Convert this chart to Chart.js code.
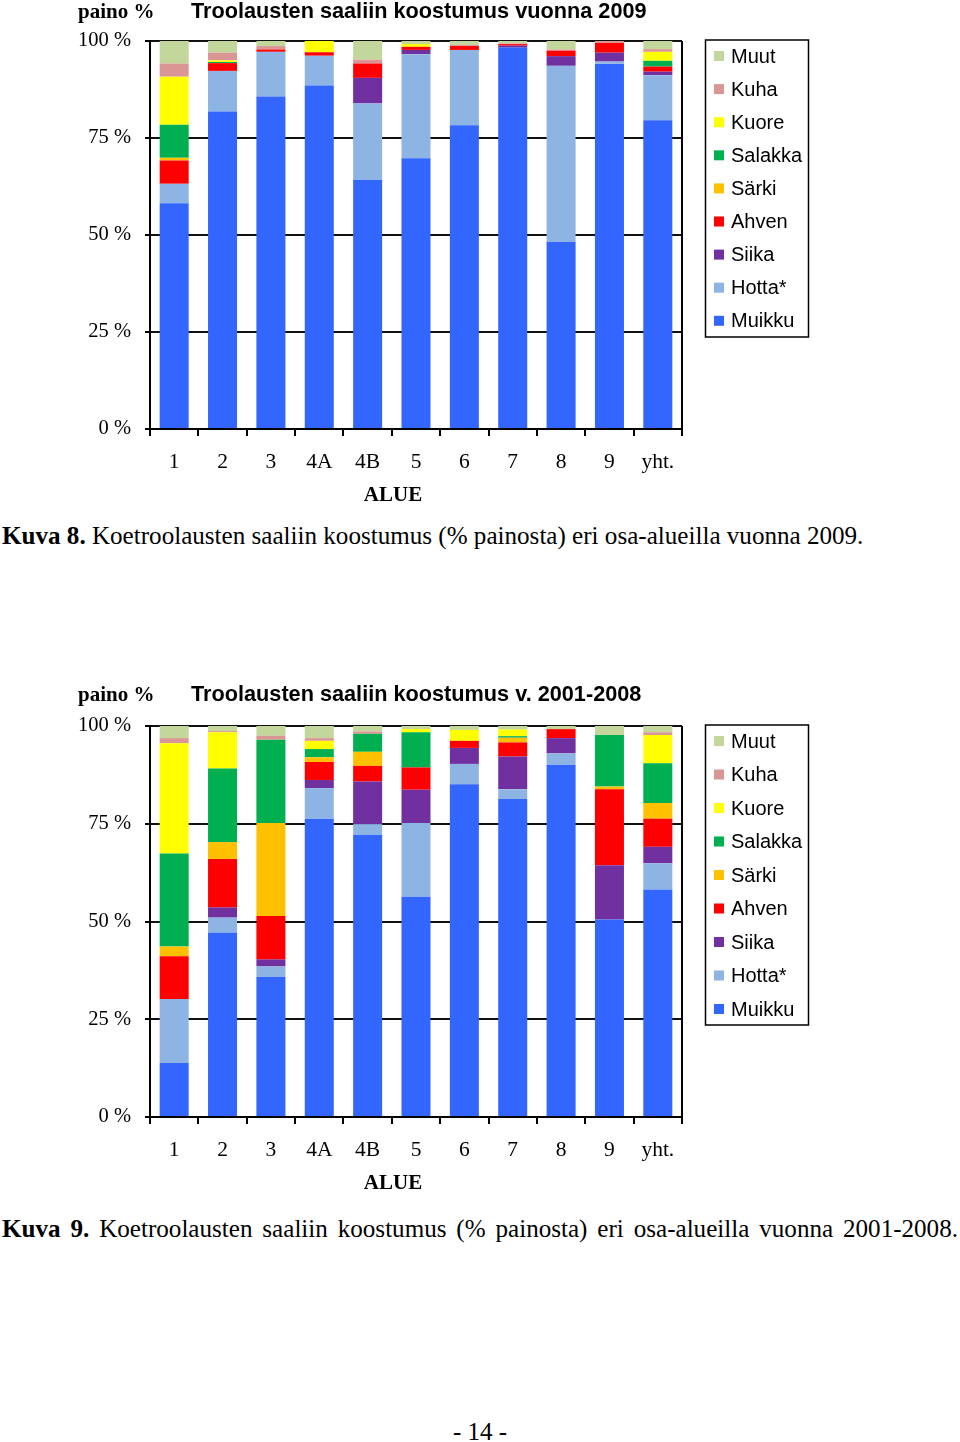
<!DOCTYPE html>
<html>
<head>
<meta charset="utf-8">
<script src="https://cdn.jsdelivr.net/npm/chart.js@4.4.1/dist/chart.umd.min.js"></script>
<style>
  html, body { margin: 0; padding: 0; background: #fff; }
  body { width: 960px; height: 1442px; position: relative; overflow: hidden; font-family: "Liberation Serif", serif; color: #000; }
  .wrap { position: absolute; left: 0; width: 960px; }
  .caption { position: absolute; left: 2px; font-size: 25.1px; white-space: nowrap; line-height: 28px; }
  .caption.just { width: 956px; text-align: justify; text-align-last: justify; white-space: normal; }
  .page { position: absolute; left: 0; width: 960px; text-align: center; top: 1418px; font-size: 25px; line-height: 28px; }
</style>
</head>
<body>
<div class="wrap" style="top:0;height:520px"><canvas id="chart2009"></canvas></div>
<div class="caption" style="top:522px"><b>Kuva 8.</b> Koetroolausten saaliin koostumus (% painosta) eri osa-alueilla vuonna 2009.</div>
<div class="wrap" style="top:685px;height:523px"><canvas id="chart0108"></canvas></div>
<div class="caption just" style="top:1215px"><b>Kuva 9.</b> Koetroolausten saaliin koostumus (% painosta) eri osa-alueilla vuonna 2001-2008.</div>
<div class="page">- 14 -</div>

<script>
const areas = ['1','2','3','4A','4B','5','6','7','8','9','yht.'];
const species = ['Muikku','Hotta*','Siika','Ahven','Särki','Salakka','Kuore','Kuha','Muut'];
const colors = ['#3366ff','#8eb4e3','#7030a0','#ff0000','#ffc000','#00b050','#ffff00','#d99694','#c3d69b'];
const yTicks = [0, 25, 50, 75, 100];

// vuonna 2009, % painosta
const muikku09  = [58.2, 81.8, 85.7, 88.5, 64.2, 69.8, 78.3, 98.3, 48.2, 94.1, 79.6];
const hotta09   = [5.0, 10.5, 11.5, 7.7, 19.7, 26.8, 19.4, 0, 45.4, 0.6, 11.6];
const siika09   = [0, 0, 0, 0, 6.6, 1.1, 0, 0.5, 2.5, 2.3, 0.9];
const ahven09   = [6.0, 2.0, 0.6, 0.9, 3.7, 0.8, 1.0, 0.4, 1.4, 2.5, 1.3];
const sarki09   = [0.7, 0, 0, 0, 0, 0, 0, 0, 0, 0, 0];
const salakka09 = [8.5, 0.3, 0, 0, 0, 0, 0, 0, 0, 0, 1.5];
const kuore09   = [12.4, 0.4, 0, 2.9, 0, 0.7, 0, 0, 0, 0, 2.3];
const kuha09    = [3.4, 2.0, 0.9, 0, 1.0, 0, 0.3, 0.2, 0.3, 0.5, 0.7];
const muut09    = [5.8, 3.0, 1.3, 0, 4.8, 0.8, 1.0, 0.6, 2.2, 0, 2.1];

// v. 2001-2008
const muikku0108  = [13.8, 47.1, 35.8, 76.3, 72.1, 56.3, 85.1, 81.3, 90.1, 50.5, 58.2];
const hotta0108   = [16.4, 3.9, 2.7, 7.8, 2.8, 18.9, 5.2, 2.5, 2.9, 0, 6.7];
const siika0108   = [0, 2.6, 1.8, 2.1, 10.9, 8.5, 4.1, 8.4, 3.9, 13.9, 4.2];
const ahven0108   = [10.9, 12.4, 11.1, 4.6, 4.0, 5.7, 1.8, 3.6, 2.3, 19.4, 7.2];
const sarki0108   = [2.5, 4.3, 23.8, 1.2, 3.6, 0, 0, 1.2, 0, 0.7, 4.0];
const salakka0108 = [23.8, 18.8, 21.3, 2.1, 4.6, 9.0, 0, 0.4, 0, 13.2, 10.2];
const kuore0108   = [28.2, 9.3, 0, 2.1, 0, 0.8, 2.8, 1.7, 0, 0, 7.2];
const kuha0108    = [1.3, 0.3, 1.0, 0.7, 0.6, 0, 0, 0, 0, 0, 0.7];
const muut0108    = [3.1, 1.3, 2.5, 3.1, 1.4, 0.8, 1.0, 0.9, 0.8, 2.3, 1.6];

const SERIF = '"Liberation Serif", "Times New Roman", serif';
const SANS = '"Liberation Sans", Arial, sans-serif';

// titles, axis name and boxed legend
const decor = {
  id: 'decor',
  afterDraw(chart, args, o){
    const c = chart.ctx;
    c.save();
    c.fillStyle = '#000';
    c.textBaseline = 'middle';
    c.textAlign = 'left';
    c.font = 'bold 21px ' + SERIF;
    c.fillText('paino %', 78, o.titleY + 1);
    c.font = 'bold 21.7px ' + SANS;
    c.fillText(o.title, 191, o.titleY);
    c.textAlign = 'center';
    c.font = 'bold 21px ' + SERIF;
    c.fillText('ALUE', 393, chart.chartArea.bottom + 67);

    // legend, Muut on top
    c.strokeStyle = '#000';
    c.lineWidth = 1.5;
    c.strokeRect(705.5, o.legTop, 103, o.legH);
    c.textAlign = 'left';
    c.font = '20px ' + SANS;
    const sets = chart.data.datasets.slice().reverse();
    sets.forEach((ds, i) => {
      const y = o.legTop + 16 + i * o.legStep;
      c.fillStyle = ds.backgroundColor;
      c.fillRect(714, y - 5, 10, 10);
      c.fillStyle = '#000';
      c.fillText(ds.label, 731, y + 1);
    });
    c.restore();
  }
};

function drawChart(id, series, title, legH, legStep, titleY){
  const ctx = document.getElementById(id);
  new Chart(ctx, {
    type: 'bar',
    data: {
      labels: areas,
      datasets: species.map((name, i) => ({
        label: name,
        data: series[i],
        backgroundColor: colors[i],
        borderWidth: 0,
        barPercentage: 0.6,
        categoryPercentage: 1
      }))
    },
    options: {
      responsive: true,
      maintainAspectRatio: false,
      animation: false,
      devicePixelRatio: 1,
      layout: { padding: { top: 41, right: 278, left: 0, bottom: 0 } },
      plugins: {
        legend: { display: false },
        tooltip: { enabled: false },
        decor: { title, legTop: 40, legH, legStep, titleY }
      },
      scales: {
        x: {
          stacked: true,
          offset: true,
          afterFit(s){ s.height = 91; },
          grid: {
            offset: true,
            drawOnChartArea: true,
            color: c => c.type === 'tick' ? 'rgba(0,0,0,0)' : '#000',
            tickColor: '#000',
            lineWidth: 2,
            tickLength: 7
          },
          border: { display: true, color: '#000', width: 2 },
          ticks: {
            color: '#000',
            font: { family: SERIF, size: 21.5 },
            padding: 13,
            maxRotation: 0,
            autoSkip: false
          }
        },
        y: {
          stacked: true,
          min: 0,
          max: 100,
          afterFit(s){ s.width = 150; },
          afterBuildTicks(s){ s.ticks = yTicks.map(v => ({ value: v })); },
          grid: { color: '#111', lineWidth: 2, tickLength: 5, tickColor: '#000' },
          border: { display: true, color: '#000', width: 2 },
          ticks: {
            color: '#000',
            font: { family: SERIF, size: 20.5, lineHeight: 1.4 },
            padding: 14,
            callback: v => v + ' %'
          }
        }
      }
    },
    plugins: [decor]
  });
}

drawChart('chart2009',
  [muikku09, hotta09, siika09, ahven09, sarki09, salakka09, kuore09, kuha09, muut09],
  'Troolausten saaliin koostumus vuonna 2009', 297, 33.1, 12);

drawChart('chart0108',
  [muikku0108, hotta0108, siika0108, ahven0108, sarki0108, salakka0108, kuore0108, kuha0108, muut0108],
  'Troolausten saaliin koostumus v. 2001-2008', 300, 33.5, 10);
</script>
</body>
</html>
